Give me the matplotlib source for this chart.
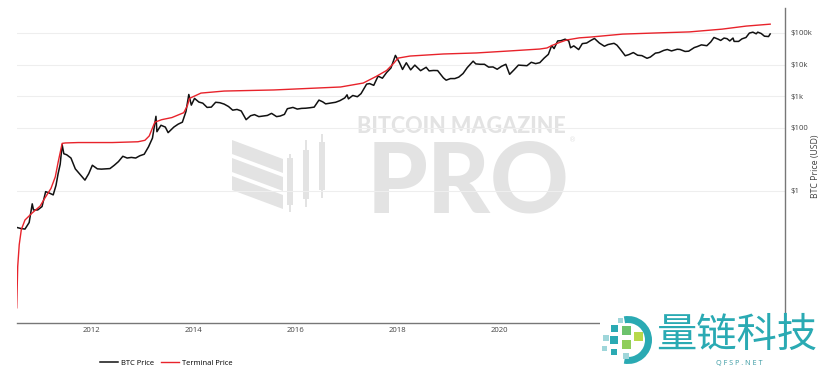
import matplotlib
matplotlib.use("Agg")
import matplotlib.pyplot as plt
import matplotlib.dates as mdates
import numpy as np
import pandas as pd
from matplotlib.patches import Polygon, Rectangle, Wedge
from matplotlib.ticker import FixedLocator, FixedFormatter
from matplotlib.transforms import IdentityTransform

W, H = 820, 373

# BTC price, roughly monthly
btc_dates = [
    "2010-07-18", "2010-08-15", "2010-09-15", "2010-10-15", "2010-11-06", "2010-11-15",
    "2010-12-15", "2011-01-15", "2011-02-10", "2011-03-10", "2011-04-05", "2011-04-25",
    "2011-05-10", "2011-05-25", "2011-06-08", "2011-06-20", "2011-07-10", "2011-08-10",
    "2011-09-10", "2011-10-10", "2011-11-18", "2011-12-15", "2012-01-10", "2012-02-15",
    "2012-03-15", "2012-04-15", "2012-05-15", "2012-06-15", "2012-07-15", "2012-08-15",
    "2012-09-15", "2012-10-15", "2012-11-15", "2012-12-15", "2013-01-15", "2013-02-15",
    "2013-03-15", "2013-04-09", "2013-04-16", "2013-05-15", "2013-06-15", "2013-07-05",
    "2013-08-15", "2013-09-15", "2013-10-15", "2013-11-10", "2013-11-30", "2013-12-18",
    "2014-01-10", "2014-02-10", "2014-03-10", "2014-04-10", "2014-05-10", "2014-06-10",
    "2014-07-10", "2014-08-10", "2014-09-10", "2014-10-10", "2014-11-10", "2014-12-10",
    "2015-01-14", "2015-02-15", "2015-03-15", "2015-04-15", "2015-05-15", "2015-06-15",
    "2015-07-15", "2015-08-20", "2015-09-15", "2015-10-15", "2015-11-05", "2015-12-15",
    "2016-01-15", "2016-02-15", "2016-03-15", "2016-04-15", "2016-05-15", "2016-06-18",
    "2016-07-15", "2016-08-05", "2016-09-15", "2016-10-15", "2016-11-15", "2016-12-20",
    "2017-01-05", "2017-01-15", "2017-02-15", "2017-03-20", "2017-04-15", "2017-05-25",
    "2017-06-15", "2017-07-15", "2017-08-15", "2017-09-15", "2017-10-15", "2017-11-15",
    "2017-12-17", "2018-01-15", "2018-02-06", "2018-03-05", "2018-04-05", "2018-05-05",
    "2018-06-15", "2018-07-25", "2018-08-15", "2018-09-15", "2018-10-15", "2018-11-25",
    "2018-12-15", "2019-01-15", "2019-02-15", "2019-03-15", "2019-04-15", "2019-05-15",
    "2019-06-26", "2019-07-15", "2019-08-15", "2019-09-15", "2019-10-15", "2019-11-15",
    "2019-12-15", "2020-01-15", "2020-02-15", "2020-03-13", "2020-04-15", "2020-05-15",
    "2020-06-15", "2020-07-15", "2020-08-15", "2020-09-15", "2020-10-15", "2020-11-15",
    "2020-12-15", "2021-01-08", "2021-01-25", "2021-02-20", "2021-03-15", "2021-04-14",
    "2021-05-10", "2021-05-23", "2021-06-15", "2021-07-20", "2021-08-15", "2021-09-15",
    "2021-10-15", "2021-11-10", "2021-12-15", "2022-01-20", "2022-02-15", "2022-03-30",
    "2022-04-20", "2022-05-15", "2022-06-18", "2022-07-15", "2022-08-15", "2022-09-15",
    "2022-10-15", "2022-11-21", "2022-12-15", "2023-01-20", "2023-02-15", "2023-03-20",
    "2023-04-15", "2023-05-15", "2023-06-25", "2023-07-15", "2023-08-20", "2023-09-15",
    "2023-10-25", "2023-11-15", "2023-12-15", "2024-01-23", "2024-02-20", "2024-03-14",
    "2024-04-15", "2024-05-01", "2024-05-25", "2024-06-15", "2024-07-05", "2024-07-28",
    "2024-08-05", "2024-09-06", "2024-09-30", "2024-10-29", "2024-11-22", "2024-12-17",
    "2025-01-10", "2025-01-21", "2025-02-15", "2025-03-10", "2025-04-08", "2025-04-20",
]
btc_price = [
    0.07, 0.065, 0.062, 0.10, 0.39, 0.25,
    0.25, 0.32, 0.95, 0.85, 0.75, 1.5,
    3.5, 7.0, 29.0, 15.0, 14.0, 11.0,
    5.0, 3.5, 2.2, 3.5, 6.5, 5.0,
    4.9, 5.0, 5.1, 6.5, 8.5, 12.5,
    11.0, 11.5, 11.0, 13.0, 14.5, 25.0,
    47.0, 230.0, 75.0, 120.0, 105.0, 70.0,
    105.0, 130.0, 150.0, 330.0, 1130.0, 520.0,
    850.0, 650.0, 600.0, 440.0, 450.0, 640.0,
    620.0, 560.0, 470.0, 360.0, 380.0, 340.0,
    180.0, 240.0, 260.0, 225.0, 235.0, 245.0,
    285.0, 225.0, 235.0, 265.0, 400.0, 440.0,
    390.0, 410.0, 415.0, 430.0, 450.0, 750.0,
    660.0, 570.0, 610.0, 640.0, 720.0, 880.0,
    1100.0, 820.0, 1050.0, 960.0, 1200.0, 2400.0,
    2500.0, 2200.0, 4300.0, 3700.0, 5600.0, 7800.0,
    19500.0, 11500.0, 7000.0, 11400.0, 6800.0, 9600.0,
    6400.0, 8200.0, 6300.0, 6500.0, 6450.0, 3800.0,
    3200.0, 3600.0, 3600.0, 4000.0, 5200.0, 8000.0,
    12800.0, 10500.0, 10200.0, 10200.0, 8300.0, 8400.0,
    7100.0, 8800.0, 10200.0, 4900.0, 6900.0, 9600.0,
    9400.0, 9200.0, 11800.0, 10700.0, 11500.0, 16000.0,
    21000.0, 40000.0, 32000.0, 56000.0, 57000.0, 63500.0,
    56000.0, 34000.0, 39000.0, 29800.0, 46000.0, 48000.0,
    58000.0, 67000.0, 48000.0, 38000.0, 43000.0, 47000.0,
    41000.0, 30000.0, 19000.0, 20700.0, 24000.0, 19700.0,
    19200.0, 15800.0, 17300.0, 23000.0, 24000.0, 28000.0,
    30000.0, 27000.0, 30500.0, 30000.0, 26000.0, 26500.0,
    34500.0, 37000.0, 42000.0, 39500.0, 52000.0, 72000.0,
    63000.0, 58000.0, 69000.0, 66000.0, 56000.0, 69000.0,
    54000.0, 54000.0, 65000.0, 72000.0, 99000.0, 106000.0,
    94000.0, 106000.0, 96000.0, 79000.0, 77000.0, 93000.0,
]

# Terminal price
term_dates = [
    "2010-07-18", "2010-07-25", "2010-08-05", "2010-08-20", "2010-09-15", "2010-11-05",
    "2011-01-01", "2011-02-05", "2011-03-20", "2011-04-20", "2011-05-10", "2011-06-08",
    "2011-07-01", "2011-10-01", "2012-06-01", "2012-12-01", "2013-01-20", "2013-02-20",
    "2013-04-01", "2013-05-20", "2013-08-01", "2013-10-25", "2013-11-20", "2013-12-05",
    "2014-02-25", "2014-08-10", "2015-08-01", "2016-11-20", "2017-05-01", "2017-08-01",
    "2017-10-15", "2017-12-05", "2018-01-05", "2018-04-01", "2018-11-25", "2019-07-20",
    "2020-03-15", "2020-10-15", "2020-12-05", "2021-01-15", "2021-03-05", "2021-04-25",
    "2021-07-25", "2021-10-10", "2022-05-30", "2023-01-25", "2023-09-20", "2024-05-10",
    "2024-10-30", "2025-04-20",
]
term_price = [
    0.0002, 0.004, 0.02, 0.06, 0.12, 0.2,
    0.33, 0.6, 1.2, 2.8, 8.0, 32.0,
    33.0, 34.0, 34.0, 36.0, 40.0, 55.0,
    150.0, 180.0, 210.0, 300.0, 500.0, 850.0,
    1250.0, 1450.0, 1570.0, 1950.0, 2600.0, 4200.0,
    6500.0, 11000.0, 16000.0, 18600.0, 21600.0, 23300.0,
    27000.0, 31000.0, 33500.0, 41000.0, 50000.0, 60000.0,
    70000.0, 74000.0, 92000.0, 100000.0, 108000.0, 132000.0,
    165000.0, 190000.0,
]

y_ticks = [1, 100, 1e3, 1e4, 1e5]
y_labels = ["$1", "$100", "$1k", "$10k", "$100k"]
x_years = [2012, 2014, 2016, 2018, 2020]


def px(x, y):
    return x / W, 1 - y / H


fig = plt.figure(figsize=(W / 100, H / 100), dpi=100)
fig.patch.set_facecolor("white")

# watermark (behind everything)
wm = "#e3e3e3"
fig.text(*px(461, 133), "BITCOIN MAGAZINE", fontsize=15.5, fontweight="black", family="Lato",
         color=wm, ha="center", va="baseline", zorder=-5)
fig.text(*px(468, 212), "PRO", fontsize=70, fontweight="black", family="Lato",
         color=wm, ha="center", va="baseline", zorder=-5)
fig.text(*px(573, 140), "®", fontsize=5, color=wm, ha="center", va="center", zorder=-5)
for top in (140, 158, 176):
    band = [px(232, top), px(283, top + 19), px(283, top + 33), px(232, top + 14)]
    fig.add_artist(Polygon(band, closed=True, transform=fig.transFigure, color=wm, zorder=-5, lw=0))
for cx, b0, b1, w0, w1 in ((290, 158, 205, 154, 212), (306, 150, 199, 140, 207), (322, 142, 190, 134, 198)):
    fig.add_artist(Rectangle(px(cx - 3, b1), 6 / W, (b1 - b0) / H, transform=fig.transFigure,
                             color=wm, zorder=-5, lw=0))
    fig.add_artist(Rectangle(px(cx - 0.7, w1), 1.4 / W, (w1 - w0) / H, transform=fig.transFigure,
                             color=wm, zorder=-5, lw=0))

ax = fig.add_axes([17 / W, 1 - 323 / H, (785 - 17) / W, (323 - 8) / H])
ax.patch.set_alpha(0)

bd = pd.to_datetime(btc_dates)
td = pd.to_datetime(term_dates)
l1, = ax.plot(bd, btc_price, color="#111111", lw=1.1, label="BTC Price", zorder=3)
l2, = ax.plot(td, term_price, color="#e8232b", lw=1.0, label="Terminal Price", zorder=4)

ax.set_yscale("log")
ax.set_ylim(10 ** -4.18, 10 ** 5.79)
ax.set_xlim(pd.Timestamp("2010-07-20"), pd.Timestamp("2025-08-04"))

ax.yaxis.tick_right()
ax.yaxis.set_major_locator(FixedLocator(y_ticks))
ax.yaxis.set_major_formatter(FixedFormatter(y_labels))
ax.yaxis.set_minor_locator(FixedLocator([]))
ax.set_xticks([pd.Timestamp(f"{y}-01-01") for y in x_years])
ax.xaxis.set_major_formatter(mdates.DateFormatter("%Y"))

ax.tick_params(axis="both", length=0, labelsize=5.6, colors="#444444")
ax.tick_params(axis="y", pad=4)
ax.tick_params(axis="x", pad=3)
for lab in ax.get_xticklabels() + ax.get_yticklabels():
    lab.set_family("Open Sans")
fig.text(*px(816, 166), "BTC Price (USD)", rotation=90, fontsize=6.3, color="#444444",
         family="Open Sans", ha="center", va="center")

ax.grid(axis="y", color="#eeeeee", lw=0.8)
ax.grid(axis="x", visible=False)
ax.set_axisbelow(True)
for s in ("top", "left"):
    ax.spines[s].set_visible(False)
ax.spines["bottom"].set_color("#777777")
ax.spines["bottom"].set_linewidth(1.0)
ax.spines["right"].set_color("#777777")
ax.spines["right"].set_linewidth(1.0)
ax.spines["right"].set_bounds(10 ** -3.83, 10 ** 5.79)

leg = fig.legend(handles=[l1, l2], loc="center left", bbox_to_anchor=px(93, 363), ncol=2,
                 frameon=False, handlelength=2.4, handletextpad=0.4, columnspacing=0.8,
                 prop={"family": "Open Sans", "size": 5.5})

# QFSP logo at bottom right, drawn in pixel space
ident = IdentityTransform()
fig.add_artist(Rectangle((600, 0), 220, H - 313, transform=ident, color="white", zorder=10, lw=0))
teal = "#2aaab3"
fig.text(*px(737, 335), "量链科技", fontsize=29, family="Noto Sans CJK SC", color=teal,
         ha="center", va="center", zorder=11)
fig.text(*px(739, 364), "Q F S P . N E T", fontsize=5.2, family="Open Sans", color="#3a9aa3",
         ha="center", va="center", zorder=11)
fig.add_artist(Wedge((628, H - 340), 24, -100, 100, width=7, transform=ident,
                     color=teal, zorder=11, lw=0))
sq = [(606, 338, 3, "#9fd6da"), (614, 328, 3.5, "#2aaab3"), (614, 340, 4, "#2aaab3"),
      (626, 330, 4.5, "#6cc26c"), (626, 344, 4.5, "#8fce5a"), (638, 336, 4.5, "#b8d94a"),
      (614, 352, 3, "#2aaab3"), (626, 356, 3, "#9fd6da"), (604, 348, 2.5, "#9fd6da"),
      (620, 320, 2.5, "#9fd6da")]
for sx, sy, r, c in sq:
    fig.add_artist(Rectangle((sx - r, H - sy - r), 2 * r, 2 * r, transform=ident,
                             color=c, zorder=11, lw=0))

fig.savefig("out.png", dpi=100)
